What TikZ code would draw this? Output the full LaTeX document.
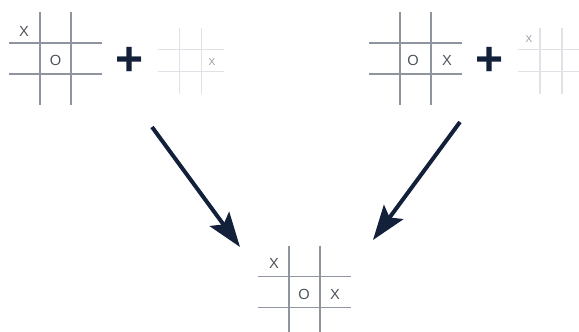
\documentclass[tikz,border=0pt]{standalone}
\usepackage{fontspec}
\setmainfont{Liberation Sans}
\usetikzlibrary{positioning,arrows.meta}

\definecolor{gridgray}{HTML}{8E959E}
\definecolor{fadegray}{HTML}{DFE2E6}
\definecolor{markgray}{HTML}{4E545B}
\definecolor{fademark}{HTML}{959BA2}
\definecolor{navy}{HTML}{13203A}

\tikzset{
  pics/board/.style={code={
    \draw (-#1/2,-1.5*#1) -- (-#1/2,1.5*#1)
          (#1/2,-1.5*#1) -- (#1/2,1.5*#1)
          (-1.5*#1,-#1/2) -- (1.5*#1,-#1/2)
          (-1.5*#1,#1/2) -- (1.5*#1,#1/2);
  }},
  boardline/.style={draw=gridgray,line width=1.1pt},
  fadeline/.style={draw=fadegray,line width=1.1pt},
  cellmark/.style={text=markgray,inner sep=0pt,font=\fontsize{11}{11}\selectfont},
  fadecell/.style={text=fademark,inner sep=0pt,font=\fontsize{7.5}{7.5}\selectfont},
  plussign/.style={text=navy,inner sep=0pt,font=\fontsize{36}{36}\selectfont\bfseries},
  movearrow/.style={-{Stealth[length=26pt,width=18pt,inset=5pt]},navy,line width=3pt},
}

\begin{document}
\begin{tikzpicture}[x=0.75pt,y=-0.75pt]
\useasboundingbox (0,0) rectangle (579,332);
\begin{scope}
\clip (0,0) rectangle (579,332);

% first pair
\pic[boardline] at (55.5,58.5) {board=31};
\node[cellmark] (a1) at (24,31) {X};
\node[cellmark] (a2) at (55.5,60) {O};
\node[plussign] (ap) at (129.5,61) {+};
\pic[fadeline] at (190.5,60.5) {board=22};
\node[fadecell] (a3) at (212,62) {X};

% second pair
\pic[boardline] at (415.5,58.5) {board=31};
\node[cellmark] (b1) at (413,60) {O};
\node[cellmark] (b2) at (447,60) {X};
\node[plussign] (bp) at (489.5,61) {+};
\pic[fadeline] at (551,60.5) {board=22};
\node[fadecell] (b3) at (529,39) {X};

% result
\pic[boardline] at (304.5,292) {board=31};
\node[cellmark] (c1) at (274,263) {X};
\node[cellmark] (c2) at (304,294) {O};
\node[cellmark] (c3) at (335,294) {X};
\end{scope}

\coordinate (l0) at (152,127);
\coordinate (l1) at (240,247);
\coordinate (r0) at (460,122);
\coordinate (r1) at (373,240);
\draw[movearrow] (l0) -- (l1);
\draw[movearrow] (r0) -- (r1);
\end{tikzpicture}
\end{document}
